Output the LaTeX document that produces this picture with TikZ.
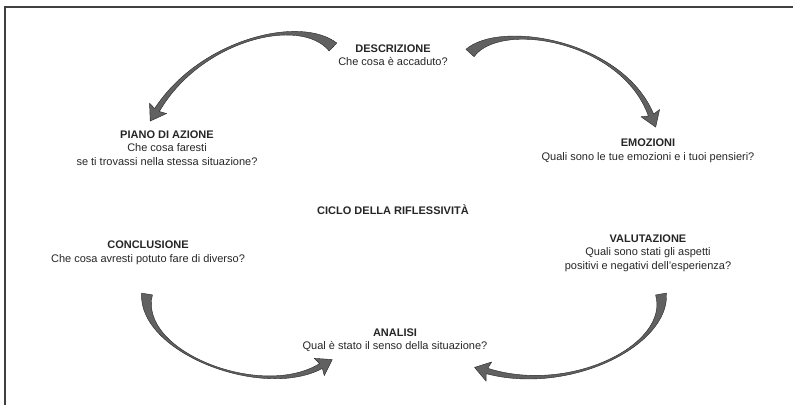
\documentclass[tikz,border=0pt]{standalone}
\usepackage{fontspec}
\setmainfont{Liberation Sans}
\usetikzlibrary{calc}

% tapered curved arrow: tail, control 1, control 2, neck
\newcommand{\drawswoosh}[4]{%
  \filldraw[swoosh] ($(#1)!5.5pt!90:(#2)$) .. controls ($(#2)!0.7pt!90:(#3)$) and ($(#3)!0.7pt!90:(#4)$) .. ($(#4)!2.8pt!-90:(#3)$)
    -- ($($(#4)!2pt!(#3)$)!10pt!-90:(#3)$) -- ($(#4)!-13pt!(#3)$) -- ($($(#4)!2pt!(#3)$)!10pt!90:(#3)$)
    -- ($(#4)!2.8pt!90:(#3)$) .. controls ($(#3)!0.7pt!-90:(#4)$) and ($(#2)!0.7pt!-90:(#3)$) .. ($(#1)!5.5pt!-90:(#2)$) -- cycle;}

\begin{document}
\begin{tikzpicture}[x=1pt, y=-1pt]
\tikzstyle{stage} = [align=center, inner sep=0pt, text=black!85,
    font=\fontsize{11}{13.5}\selectfont]
\tikzstyle{swoosh} = [fill=black!62, draw=black!85, line width=0.4pt, line join=round]
\tikzstyle{frame} = [draw=black!75, line width=1.5pt]

\useasboundingbox (0,0) rectangle (793,405);

% Frame
\draw[frame] (5,405) -- (5,7) -- (793,7);

% Nodes
\node[stage] (descr) at (393,55) {\textbf{DESCRIZIONE}\\Che cosa è accaduto?};
\node[stage] (emoz) at (648,151) {\textbf{EMOZIONI}\\Quali sono le tue emozioni e i tuoi pensieri?};
\node[stage] (valut) at (648,253) {\textbf{VALUTAZIONE}\\Quali sono stati gli aspetti\\positivi e negativi dell’esperienza?};
\node[stage] (anal) at (395,340) {\textbf{ANALISI}\\Qual è stato il senso della situazione?};
\node[stage] (concl) at (148,253) {\textbf{CONCLUSIONE}\\Che cosa avresti potuto fare di diverso?};
\node[stage] (piano) at (167,148) {\textbf{PIANO DI AZIONE}\\Che cosa faresti\\se ti trovassi nella stessa situazione?};
\node[stage] (ciclo) at (393,210) {\textbf{CICLO DELLA RIFLESSIVITÀ}};

% Arrow paths
\coordinate (dpTail) at (333,47);
\coordinate (dpA) at (300,15);
\coordinate (dpB) at (200,40);
\coordinate (dpNeck) at (157,110);

\coordinate (deTail) at (470,53);
\coordinate (deA) at (500,20);
\coordinate (deB) at (622,40);
\coordinate (deNeck) at (651,115);

\coordinate (caTail) at (147,294);
\coordinate (caA) at (138,352);
\coordinate (caB) at (262,400);
\coordinate (caNeck) at (321,366);

\coordinate (vaTail) at (661,294);
\coordinate (vaA) at (670,345);
\coordinate (vaB) at (570,395);
\coordinate (vaNeck) at (487,371);

% Arrows
\drawswoosh{dpTail}{dpA}{dpB}{dpNeck}
\drawswoosh{deTail}{deA}{deB}{deNeck}
\drawswoosh{caTail}{caA}{caB}{caNeck}
\drawswoosh{vaTail}{vaA}{vaB}{vaNeck}
\end{tikzpicture}
\end{document}
